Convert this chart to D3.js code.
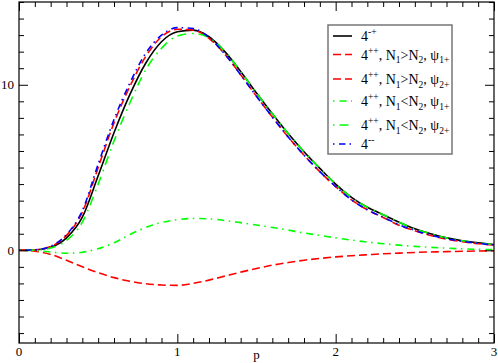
<!DOCTYPE html>
<html><head><meta charset="utf-8">
<script src="https://cdn.jsdelivr.net/npm/d3@7"></script>
<style>body{margin:0;background:#fff}svg{display:block}</style>
</head><body><svg id="c" width="498" height="363"></svg>
<script>
const pGrid = [0,0.1,0.2,0.3,0.4,0.5,0.6,0.7,0.8,0.9,1.0,1.1,1.2,1.3,1.4,1.5,1.6,1.7,1.8,1.9,2.0,2.1,2.2,2.3,2.4,2.5,2.6,2.7,2.8,2.9,3.0];
const sMinusPlus = [0,0.02,0.18,0.75,2.0,4.5,7.1,9.4,11.3,12.6,13.2,13.3,12.9,12.0,10.8,9.5,8.25,7.05,5.95,4.95,4.0,3.2,2.6,2.15,1.7,1.3,1.0,0.75,0.58,0.45,0.35];
const sPP_gt_1 = [0,0.03,0.23,0.9,2.3,5.0,7.7,9.9,11.7,12.9,13.35,13.3,12.8,11.85,10.6,9.3,8.05,6.85,5.75,4.75,3.85,3.05,2.45,1.98,1.52,1.18,0.9,0.68,0.52,0.4,0.32];
const sPP_gt_2 = [0,-0.05,-0.25,-0.6,-1.0,-1.35,-1.65,-1.87,-2.02,-2.1,-2.12,-2.0,-1.8,-1.56,-1.32,-1.1,-0.9,-0.74,-0.6,-0.49,-0.4,-0.33,-0.27,-0.21,-0.17,-0.13,-0.1,-0.08,-0.06,-0.04,-0.03];
const sPP_lt_1 = [0,-0.02,-0.1,-0.18,-0.12,0.1,0.45,0.95,1.38,1.68,1.85,1.92,1.9,1.8,1.67,1.53,1.38,1.22,1.05,0.9,0.75,0.62,0.5,0.4,0.31,0.24,0.18,0.13,0.09,0.06,0.04];
const sPP_lt_2 = [0,0.01,0.14,0.6,1.7,4.0,6.6,8.9,10.9,12.2,12.95,13.1,12.85,12.0,10.8,9.5,8.25,7.05,5.95,4.95,4.0,3.2,2.6,2.15,1.7,1.3,1.0,0.75,0.58,0.45,0.35];
const sMinusMinus = [0,0.03,0.25,0.95,2.4,5.2,7.9,10.1,11.9,13.0,13.45,13.4,12.85,11.85,10.6,9.3,8.05,6.85,5.75,4.75,3.85,3.05,2.45,2.0,1.55,1.2,0.92,0.7,0.54,0.42,0.33];
const xMajor = [0,1,2,3];
const yMajor = [0,10];
const xLabel = "p";

const FONT = '"Liberation Serif","Times New Roman",Times,"DejaVu Serif",serif';
const series = [
  {vals:sMinusPlus, color:"#000", dash:null, label:[["4",""],["-+","sup"]]},
  {vals:sPP_gt_1, color:"#ff0000", dash:"8,4", label:[["4",""],["++","sup"],[", N",""],["1","sub"],[">N",""],["2","sub"],[", ψ",""],["1+","sub"]]},
  {vals:sPP_gt_2, color:"#ff0000", dash:"8,4", label:[["4",""],["++","sup"],[", N",""],["1","sub"],[">N",""],["2","sub"],[", ψ",""],["2+","sub"]]},
  {vals:sPP_lt_1, color:"#00ff00", dash:"1.5,5,7,4.5", label:[["4",""],["++","sup"],[", N",""],["1","sub"],["<N",""],["2","sub"],[", ψ",""],["1+","sub"]]},
  {vals:sPP_lt_2, color:"#00ff00", dash:"1.5,5,9,6", label:[["4",""],["++","sup"],[", N",""],["1","sub"],["<N",""],["2","sub"],[", ψ",""],["2+","sub"]]},
  {vals:sMinusMinus, color:"#0000ff", dash:"1.5,4.5,6.5,4", label:[["4",""],["--","sup"]]}
];

const svg = d3.select("#c").attr("font-family",FONT);
const L=19,R=494,T=2,B=343;
const x = d3.scaleLinear().domain([0,3]).range([L,R]);
const y = d3.scaleLinear().domain([-5.6,15]).range([B,T]);

const line = d3.line().x((d,i)=>x(pGrid[i])).y(d=>y(d)).curve(d3.curveMonotoneX);
svg.append("clipPath").attr("id","cp").append("rect").attr("x",L).attr("y",T).attr("width",R-L).attr("height",B-T);
const g = svg.append("g").attr("clip-path","url(#cp)");
series.forEach(s=>{
  g.append("path").attr("d",line(s.vals)).attr("fill","none").attr("stroke",s.color)
   .attr("stroke-width",1.6).attr("stroke-dasharray",s.dash);
});

const xMinor = d3.range(0,30.01,1).map(v=>v/10).filter(v=>!xMajor.includes(v));
const yMinor = d3.range(-5,15.01,1).filter(v=>!yMajor.includes(v));
const ax = svg.append("g");
function addAxis(axisFn, scale, values, len, tr){
  const a = axisFn(scale).tickValues(values).tickSize(-len).tickFormat("");
  const gg = ax.append("g").attr("transform",tr).call(a);
  gg.select(".domain").remove();
  gg.selectAll("line").attr("stroke","#000");
}
addAxis(d3.axisBottom,x,xMajor,9,`translate(0,${B})`);
addAxis(d3.axisBottom,x,xMinor,5,`translate(0,${B})`);
addAxis(d3.axisTop,x,xMajor,9,`translate(0,${T})`);
addAxis(d3.axisTop,x,xMinor,5,`translate(0,${T})`);
addAxis(d3.axisLeft,y,yMajor,9,`translate(${L},0)`);
addAxis(d3.axisLeft,y,yMinor,5,`translate(${L},0)`);
addAxis(d3.axisRight,y,yMajor,9,`translate(${R},0)`);
addAxis(d3.axisRight,y,yMinor,5,`translate(${R},0)`);
svg.append("rect").attr("x",L).attr("y",T).attr("width",R-L).attr("height",B-T).attr("fill","none").attr("stroke","#000").attr("stroke-width",1.2);

svg.append("g").selectAll("text").data(xMajor).join("text")
  .attr("x",d=>x(d)).attr("y",356).attr("text-anchor","middle").attr("font-size",13).text(d=>d);
svg.append("g").selectAll("text").data(yMajor).join("text")
  .attr("x",14).attr("y",d=>y(d)+4.5).attr("text-anchor","end").attr("font-size",13).text(d=>d);
svg.append("text").attr("x",(L+R)/2).attr("y",359).attr("text-anchor","middle").attr("font-size",13).text(xLabel);

const lg = svg.append("g");
lg.append("rect").attr("x",328).attr("y",25).attr("width",124).attr("height",129).attr("fill","#fff").attr("stroke","#777").attr("stroke-width",1.5);
const rowY = [36,54.5,79,101,125,144];
series.forEach((s,i)=>{
  const yy=rowY[i];
  lg.append("line").attr("x1",333).attr("x2",352).attr("y1",yy).attr("y2",yy).attr("stroke",s.color).attr("stroke-width",1.6).attr("stroke-dasharray",s.dash);
  const t = lg.append("text").attr("x",361).attr("y",yy+5).attr("font-size",14);
  let cur=0;
  s.label.forEach(([str,kind])=>{
    const target = kind==="sup"?-6:kind==="sub"?3.5:0;
    t.append("tspan").attr("dy",target-cur).attr("font-size",kind?9.5:14).text(str);
    cur=target;
  });
});
</script></body></html>
